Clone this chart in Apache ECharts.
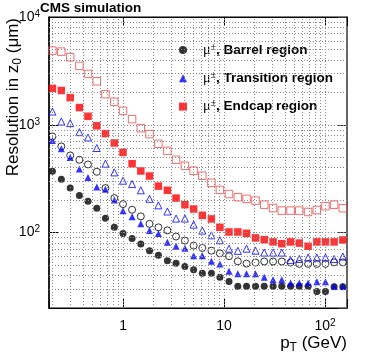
<!DOCTYPE html>
<html>
<head>
<meta charset="utf-8">
<script src="https://cdn.jsdelivr.net/npm/echarts@6/dist/echarts.min.js"></script>
<style>
  html, body { margin: 0; padding: 0; background: #fff; }
  #chart { width: 374px; height: 355px; }
</style>
</head>
<body>
<div id="chart"></div>
<script>
// pT bin centres (GeV)
const ptBins = [0.2, 0.245, 0.30, 0.37, 0.45, 0.55, 0.67, 0.82, 1.0, 1.23, 1.5, 1.83, 2.24, 2.75, 3.35, 4.1, 5.0,
  6.1, 7.5, 9.1, 11.2, 13.7, 16.7, 20.5, 25, 30.6, 37.3, 45.6, 55.6, 68, 83, 101, 123, 150];

// resolution in z0 (um), filled = first set, open = second set
const barrelFilled = [370, 312, 259, 221, 195, 168, 136, 112, 98, 88, 78.6, 68, 61.6, 55, 52, 48.5, 45.2,
  42, 42, 38.5, 35.2, 31.8, 31.8, 31.8, 31.8, 31.8, 31.8, 31.8, 31.8, 31.8, 28.4, 28.4, 31.5, 31.5];
const barrelOpen = [780, 630, 520, 474, 429, 367, 259, 209, 184, 163, 141.6, 120.5, 112, 105, 92, 84.4, 75.9,
  72.1, 68, 64.3, 60.4, 54.2, 51.6, 52.8, 54, 54, 54, 52.8, 51.3, 51.3, 51.3, 51.3, 53, 53];
const transFilled = [716, 600, 498, 389, 325, 265, 252, 201, 160, 140.6, 121, 104.4, 98, 81.3, 74.7, 71.6, 61.2,
  61.2, 54.2, 51.3, 43.9, 41.5, 41.5, 41.5, 38.6, 36.5, 36.5, 34.2, 34.2, 34.2, 35, 35, 31.8, 31.8];
const transOpen = [1327, 1073, 1037, 855, 763, 609, 436, 362, 303, 282, 247, 206, 179, 157, 135, 135, 118.7,
  104.4, 94.5, 85, 71, 67.7, 71, 68, 65.3, 65.3, 65.3, 55.6, 57, 58.7, 58.7, 58.7, 57, 60];
const endcapFilled = [2178, 2080, 1786, 1446, 1199, 979, 829, 678, 555, 436, 373, 335, 270, 247, 209, 181.6, 165.6,
  144.6, 134, 112, 101.4, 101.4, 98.6, 89.4, 86.1, 82, 79, 82, 80, 74.7, 82, 82, 82, 85.5];
const endcapOpen = [4875, 4772, 4236, 3520, 2965, 2535, 1923, 1633, 1348, 1129, 931, 820, 667, 574, 474, 417, 375,
  337, 290, 249, 228, 213, 205.6, 198, 181.6, 169, 160, 160, 160, 155.5, 162, 176, 181.6, 168.5];

// axis ticks / grid
const xTickValues = [1, 10, 100];
const xTickTexts = ['{n|1}', '{n|10}', '{n|10}{s|2}'];
const yTickValues = [100, 1000, 10000];
const yTickTexts = ['{n|10}{s|2}', '{n|10}{s|3}', '{n|10}{s|4}'];
const xGrid = [0.2, 0.3, 0.4, 0.5, 0.6, 0.7, 0.8, 0.9, 1, 2, 3, 4, 5, 6, 7, 8, 9, 10, 20, 30, 40, 50, 60, 70, 80, 90, 100];
const yGrid = [30, 40, 50, 60, 70, 80, 90, 100, 200, 300, 400, 500, 600, 700, 800, 900, 1000, 2000, 3000, 4000, 5000, 6000, 7000, 8000, 9000];

const FONT = '"Liberation Sans", Arial, Helvetica, sans-serif';
const BLUE = '#0000ff', RED = '#ff0000', PINK = '#f24a4a';

function pairs(vals) {
  return ptBins.map((x, i) => [x, vals[i]]);
}

function scatter(name, vals, symbol, color, open) {
  return {
    name: name,
    type: 'scatter',
    xAxisIndex: 0,
    yAxisIndex: 0,
    data: pairs(vals),
    symbol: symbol,
    symbolSize: symbol === 'rect' ? 7.5 : 7,
    itemStyle: open
      ? { color: 'rgba(0,0,0,0)', borderColor: color, borderWidth: 1 }
      : { color: color },
    silent: true
  };
}

const labelRich = {
  n: { fontSize: 14, fontFamily: FONT, color: '#000', lineHeight: 16 },
  s: { fontSize: 10, fontFamily: FONT, color: '#000', verticalAlign: 'top', lineHeight: 9 }
};

const chart = echarts.init(document.getElementById('chart'));
const series = [
  scatter('Barrel open', barrelOpen, 'circle', '#000', true),
  scatter('Barrel region', barrelFilled, 'circle', '#000', false),
  scatter('Transition open', transOpen, 'triangle', BLUE, true),
  scatter('Transition region', transFilled, 'triangle', BLUE, false),
  scatter('Endcap open', endcapOpen, 'rect', PINK, true),
  scatter('Endcap region', endcapFilled, 'rect', RED, false)
];
// dotted grid drawn as mark lines on the first series
series[0].markLine = {
  silent: true,
  symbol: ['none', 'none'],
  label: { show: false },
  animation: false,
  lineStyle: { color: '#8a8a8a', type: [1, 2], width: 1 },
  data: xGrid.map(v => ({ xAxis: v })).concat(yGrid.map(v => ({ yAxis: v })))
};

const logX = { type: 'log', logBase: 10, min: 0.185, max: 165, gridIndex: 0 };
const logY = { type: 'log', logBase: 10, min: 20, max: 10000, gridIndex: 0 };
const subStyle = { fontFamily: FONT, fontSize: 12, fill: '#000', verticalAlign: 'bottom', lineHeight: 12 };

chart.setOption({
  animation: false,
  backgroundColor: '#fff',
  grid: { left: 49, top: 17, width: 298, height: 291, show: true, borderColor: '#000', borderWidth: 1, backgroundColor: '#fff' },
  legend: {
    orient: 'vertical',
    left: 179, top: 42,
    itemWidth: 8, itemHeight: 8, itemGap: 13.3,
    padding: 0,
    selectedMode: false,
    data: [
      { name: 'Barrel region', icon: 'circle' },
      { name: 'Transition region', icon: 'triangle' },
      { name: 'Endcap region', icon: 'rect' }
    ],
    formatter: n => '{mu|μ}{sup|±}{b|, ' + n + '}',
    textStyle: {
      rich: {
        mu: { fontFamily: '"Liberation Serif", serif', fontSize: 14, color: '#000', lineHeight: 16, padding: [0, 0, 0, 11] },
        sup: { fontFamily: '"Liberation Serif", serif', fontSize: 10, color: '#000', verticalAlign: 'top', lineHeight: 9 },
        b: { fontFamily: FONT, fontWeight: 'bold', fontSize: 13.5, color: '#000', lineHeight: 16 }
      }
    }
  },
  xAxis: [
    Object.assign({}, logX, {
      position: 'bottom',
      axisLine: { show: true, lineStyle: { color: '#000', width: 1 } },
      axisTick: { show: true, inside: true, length: 9, lineStyle: { color: '#000' } },
      splitLine: { show: false },
      axisLabel: {
        margin: 10,
        formatter: v => { const i = xTickValues.indexOf(v); return i < 0 ? '' : xTickTexts[i]; },
        rich: labelRich
      }
    }),
    Object.assign({}, logX, {
      position: 'top',
      axisLine: { show: true, lineStyle: { color: '#000', width: 1 } },
      axisTick: { show: true, inside: true, length: 9, lineStyle: { color: '#000' } },
      splitLine: { show: false },
      axisLabel: { show: false }
    })
  ],
  yAxis: [
    Object.assign({}, logY, {
      position: 'left',
      axisLine: { show: true, lineStyle: { color: '#000', width: 1.5 } },
      axisTick: { show: true, inside: true, length: 9, lineStyle: { color: '#000' } },
      splitLine: { show: false },
      axisLabel: {
        margin: 9,
        formatter: v => { const i = yTickValues.indexOf(v); return i < 0 ? '' : yTickTexts[i]; },
        rich: labelRich
      }
    }),
    Object.assign({}, logY, {
      position: 'right',
      axisLine: { show: true, lineStyle: { color: '#666', width: 2 } },
      axisTick: { show: true, inside: true, length: 9, lineStyle: { color: '#333' } },
      splitLine: { show: false },
      axisLabel: { show: false }
    })
  ],
  graphic: [
    {
      type: 'rect', z: 3, silent: true,
      shape: { x: 163, y: 33, width: 162, height: 92 },
      style: { fill: '#fff' }
    },
    {
      type: 'text', x: 40, y: 8, silent: true,
      style: {
        text: 'CMS simulation',
        fontFamily: FONT, fontWeight: 'bold', fontSize: 13.5, fill: '#000',
        align: 'left', verticalAlign: 'middle'
      }
    },
    {
      type: 'text', x: 13, y: 18, rotation: Math.PI / 2, silent: true,
      style: {
        text: '{n|Resolution in z}{sub|0}{n| (μm)}',
        align: 'right', verticalAlign: 'middle',
        rich: {
          n: { fontFamily: FONT, fontSize: 17, fill: '#000', lineHeight: 22 },
          sub: subStyle
        }
      }
    },
    {
      type: 'text', x: 347, y: 343, silent: true,
      style: {
        text: '{n|p}{sub|T}{n| (GeV)}',
        align: 'right', verticalAlign: 'middle',
        rich: {
          n: { fontFamily: FONT, fontSize: 17, fill: '#000', lineHeight: 22 },
          sub: subStyle
        }
      }
    }
  ],
  series: series
});
</script>
</body>
</html>
